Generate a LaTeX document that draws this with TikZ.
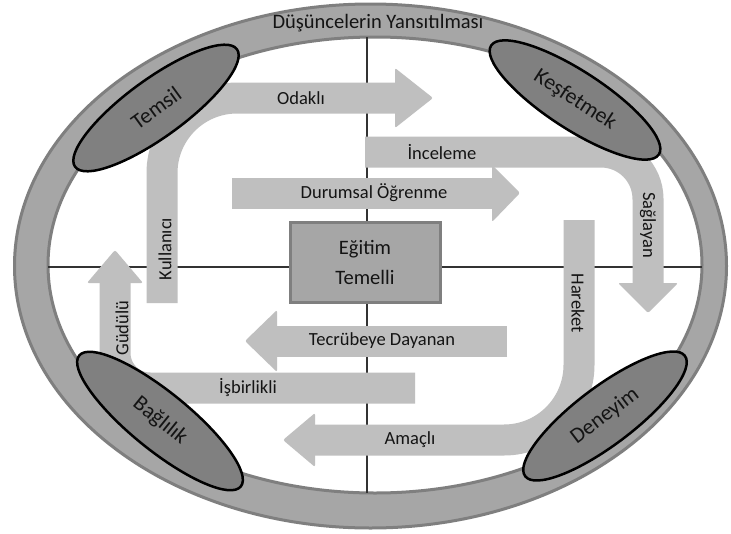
\documentclass[tikz,border=0pt]{standalone}
\usepackage{fontspec}
\setmainfont{Carlito}
\usetikzlibrary{shapes.geometric}
\definecolor{ringgray}{RGB}{166,166,166}
\definecolor{edgegray}{RGB}{127,127,127}
\definecolor{bargray}{RGB}{191,191,191}
\definecolor{blobgray}{RGB}{128,128,128}
\definecolor{txtgray}{RGB}{20,20,20}

\begin{document}
\begin{tikzpicture}[x=1pt, y=-1pt,
  bar/.style={draw=bargray, line width=31pt},
  head/.style={fill=bargray, rounded corners=2pt},
  lbl/.style={font=\fontsize{18.5}{22}\selectfont, text=txtgray, inner sep=0pt},
  blob/.style={
    ellipse, draw=black, line width=2.5pt, fill=blobgray,
    minimum width=200pt, minimum height=58pt, inner sep=0pt,
    font=\fontsize{22}{26}\selectfont, text=txtgray
  },
  basebox/.style={
    rectangle, draw=edgegray, line width=3pt, fill=ringgray,
    minimum width=150pt, minimum height=80pt, align=center,
    font=\fontsize{20.5}{30}\selectfont, text=txtgray
  }
]
  \useasboundingbox (0,0) rectangle (731,533);

  % ring
  \filldraw[fill=ringgray, draw=edgegray, line width=3pt] (370.5,266) ellipse [x radius=356, y radius=262];
  \filldraw[fill=white, draw=edgegray, line width=3pt] (375,265) ellipse [x radius=327, y radius=228];
  \node[font=\fontsize{20.5}{24}\selectfont, text=txtgray] (yansit) at (378,23) {Düşüncelerin Yansıtılması};

  % axes
  \draw[line width=1.2pt, black!80] (367,37) -- (367,493);
  \draw[line width=1.2pt, black!80] (48,267) -- (702,267);

  % arrows
  \draw[bar, rounded corners=75pt] (162,303) -- (162,98) -- (396,98);
  \fill[head] (395,68) -- (433,98) -- (395,128) -- cycle;

  \draw[bar, rounded corners=47pt] (365,152) -- (648,152) -- (648,284);
  \fill[head] (618,283) -- (648,313) -- (678,283) -- cycle;

  \draw[bar] (232,193) -- (493,193);
  \fill[head] (492,165) -- (520,193) -- (492,222) -- cycle;

  \draw[bar, rounded corners=75pt] (579,220) -- (579,440) -- (314,440);
  \fill[head] (315,413) -- (283,440) -- (315,467) -- cycle;

  \draw[bar] (507,341) -- (276,341);
  \fill[head] (277,310) -- (245,341) -- (277,372) -- cycle;

  \draw[bar, rounded corners=35pt] (415,388) -- (115,388) -- (115,282);
  \fill[head] (87,283) -- (115,250) -- (143,283) -- cycle;

  % centre
  \node[basebox] (egitim) at (365,262) {Eğitim\\Temelli};

  % corners
  \node[blob, rotate=36] (temsil) at (156,108) {Temsil};
  \node[blob, rotate=-33] (kesfet) at (575,100) {Keşfetmek};
  \node[blob, rotate=-39, minimum width=208pt] (bagli) at (160,421) {Bağlılık};
  \node[blob, rotate=37] (deneyim) at (605,416) {Deneyim};

  % arrow labels
  \node[lbl] (odakli) at (301,98) {Odaklı};
  \node[lbl, rotate=90] (kullan) at (165,249) {Kullanıcı};
  \node[lbl] (incele) at (442,152) {İnceleme};
  \node[lbl, rotate=-90] (sagla) at (648,225) {Sağlayan};
  \node[lbl] (durum) at (374,193) {Durumsal Öğrenme};
  \node[lbl, rotate=-90] (hareket) at (578,303) {Hareket};
  \node[lbl] (amacli) at (410,440) {Amaçlı};
  \node[lbl] (tecrube) at (382,341) {Tecrübeye Dayanan};
  \node[lbl] (isbir) at (248,388) {İşbirlikli};
  \node[lbl, rotate=90] (gudulu) at (122,328) {Güdülü};
\end{tikzpicture}
\end{document}
